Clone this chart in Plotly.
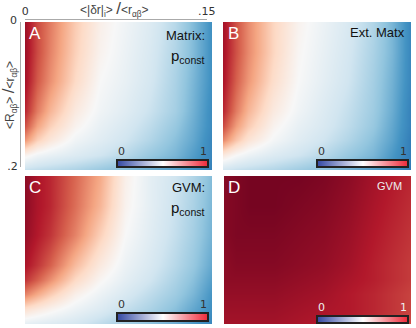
import plotly.graph_objects as go

W, H = 416, 328

x_vals = [0, 0.01, 0.02, 0.04, 0.06, 0.08, 0.10, 0.12, 0.135, 0.15]
y_vals = [0, 0.04, 0.08, 0.12, 0.14, 0.16, 0.18, 0.2]

z_matrix = [
    [0.93, 0.83, 0.76, 0.63, 0.53, 0.48, 0.43, 0.36, 0.28, 0.19],
    [0.93, 0.83, 0.75, 0.62, 0.52, 0.47, 0.42, 0.35, 0.28, 0.19],
    [0.92, 0.81, 0.73, 0.60, 0.50, 0.46, 0.41, 0.34, 0.27, 0.19],
    [0.88, 0.76, 0.67, 0.55, 0.48, 0.44, 0.39, 0.33, 0.26, 0.18],
    [0.82, 0.70, 0.62, 0.52, 0.46, 0.42, 0.37, 0.31, 0.25, 0.18],
    [0.72, 0.62, 0.56, 0.48, 0.44, 0.40, 0.35, 0.29, 0.24, 0.17],
    [0.52, 0.48, 0.46, 0.43, 0.40, 0.36, 0.31, 0.27, 0.22, 0.17],
    [0.38, 0.37, 0.36, 0.34, 0.31, 0.28, 0.25, 0.22, 0.19, 0.16],
]
z_ext = [
    [0.92, 0.82, 0.74, 0.61, 0.52, 0.47, 0.42, 0.35, 0.27, 0.17],
    [0.92, 0.82, 0.74, 0.61, 0.51, 0.46, 0.41, 0.34, 0.27, 0.17],
    [0.91, 0.80, 0.72, 0.59, 0.50, 0.45, 0.40, 0.33, 0.26, 0.17],
    [0.88, 0.76, 0.67, 0.55, 0.48, 0.43, 0.38, 0.32, 0.25, 0.16],
    [0.83, 0.71, 0.63, 0.52, 0.46, 0.42, 0.37, 0.31, 0.24, 0.16],
    [0.74, 0.64, 0.57, 0.49, 0.44, 0.40, 0.35, 0.29, 0.23, 0.15],
    [0.55, 0.50, 0.47, 0.43, 0.40, 0.36, 0.31, 0.27, 0.21, 0.15],
    [0.40, 0.38, 0.37, 0.35, 0.32, 0.29, 0.26, 0.22, 0.19, 0.14],
]
z_gvm_p = [
    [0.95, 0.91, 0.88, 0.79, 0.69, 0.53, 0.45, 0.40, 0.35, 0.28],
    [0.95, 0.91, 0.88, 0.78, 0.67, 0.52, 0.45, 0.39, 0.34, 0.27],
    [0.94, 0.90, 0.86, 0.75, 0.62, 0.50, 0.44, 0.38, 0.33, 0.26],
    [0.91, 0.86, 0.80, 0.66, 0.55, 0.47, 0.42, 0.36, 0.31, 0.24],
    [0.86, 0.80, 0.73, 0.60, 0.51, 0.45, 0.40, 0.34, 0.29, 0.22],
    [0.75, 0.69, 0.63, 0.53, 0.47, 0.42, 0.37, 0.32, 0.27, 0.20],
    [0.58, 0.55, 0.52, 0.47, 0.43, 0.38, 0.34, 0.29, 0.24, 0.19],
    [0.45, 0.44, 0.43, 0.41, 0.37, 0.33, 0.29, 0.25, 0.21, 0.17],
]
z_gvm = [
    [0.96, 0.97, 0.98, 0.98, 0.98, 0.97, 0.95, 0.92, 0.90, 0.88],
    [0.96, 0.97, 0.98, 0.98, 0.97, 0.96, 0.94, 0.91, 0.89, 0.87],
    [0.96, 0.97, 0.97, 0.97, 0.96, 0.95, 0.93, 0.90, 0.88, 0.86],
    [0.95, 0.96, 0.96, 0.96, 0.95, 0.94, 0.92, 0.89, 0.87, 0.85],
    [0.95, 0.95, 0.95, 0.95, 0.94, 0.93, 0.91, 0.89, 0.87, 0.85],
    [0.94, 0.94, 0.94, 0.94, 0.93, 0.92, 0.90, 0.88, 0.86, 0.84],
    [0.93, 0.93, 0.93, 0.93, 0.92, 0.91, 0.90, 0.88, 0.86, 0.84],
    [0.92, 0.92, 0.92, 0.92, 0.91, 0.90, 0.89, 0.87, 0.85, 0.83],
]

x_ticks = [0, 0.15]
x_tick_labels = ["0", ".15"]
y_ticks = [0.2]
y_tick_labels = [".2"]
y_top_label = "0"
cbar_vals = [0, 1]
cbar_labels = ["0", "1"]

rdbu_r = ["#053061", "#2166ac", "#4393c3", "#92c5de", "#d1e5f0", "#f7f7f7",
          "#fddbc7", "#f4a582", "#d6604d", "#b2182b", "#67001f"]
cs = [[i / 10, c] for i, c in enumerate(rdbu_r)]
cbar_cs = [[0, "#3a4ea6"], [0.5, "#ffffff"], [1, "#ee2b3b"]]

def px(x):
    return x / W

def py(y):
    return 1 - y / H

# panel pixel boxes: (x0, x1, ytop, ybottom)
panels = [
    (25, 212, 22, 170, z_matrix),
    (223, 411, 22, 170, z_ext),
    (25, 212, 176, 324, z_gvm_p),
    (224, 411, 176, 324, z_gvm),
]
cbars = [
    (118, 207, 161, 166, "#333333"),
    (318, 407, 161, 166, "#333333"),
    (118, 207, 314, 320, "#333333"),
    (318, 407, 317, 322, "#eeeeee"),
]

fig = go.Figure()
layout = dict(template="none", width=W, height=H, margin=dict(l=0, r=0, t=0, b=0, pad=0),
              paper_bgcolor="white", plot_bgcolor="rgba(0,0,0,0)", showlegend=False)

n = 1
for (x0, x1, yt, yb, z) in panels:
    xa = "xaxis" if n == 1 else f"xaxis{n}"
    ya = "yaxis" if n == 1 else f"yaxis{n}"
    fig.add_trace(go.Heatmap(x=x_vals, y=y_vals, z=z, colorscale=cs, zmin=0, zmax=1,
                             zsmooth="best", showscale=False, hoverinfo="skip",
                             xaxis="x" if n == 1 else f"x{n}",
                             yaxis="y" if n == 1 else f"y{n}"))
    layout[xa] = dict(domain=[px(x0), px(x1)], range=[0, 0.15], visible=False,
                      automargin=False, anchor="y" if n == 1 else f"y{n}")
    layout[ya] = dict(domain=[py(yb), py(yt)], range=[0.2, 0], visible=False,
                      automargin=False, anchor="x" if n == 1 else f"x{n}")
    n += 1

for (x0, x1, yt, yb, tc) in cbars:
    fig.add_trace(go.Heatmap(x=cbar_vals, y=[0], z=[cbar_vals], colorscale=cbar_cs,
                             zmin=0, zmax=1, zsmooth="best", showscale=False,
                             hoverinfo="skip", xaxis=f"x{n}", yaxis=f"y{n}"))
    layout[f"xaxis{n}"] = dict(domain=[px(x0), px(x1)], range=[0, 1], anchor=f"y{n}",
                               side="top", showline=True, mirror=True, linecolor="#222222",
                               linewidth=1.5, ticks="", showgrid=False, zeroline=False,
                               tickvals=[0.04, 0.96], ticktext=cbar_labels,
                               tickfont=dict(family="DejaVu Sans", size=11, color=tc),
                               fixedrange=True, automargin=False)
    layout[f"yaxis{n}"] = dict(domain=[py(yb), py(yt)], range=[-0.5, 0.5], anchor=f"x{n}",
                               showline=True, mirror=True, linecolor="#222222",
                               linewidth=1.5, showticklabels=False, ticks="",
                               showgrid=False, zeroline=False, fixedrange=True,
                               automargin=False)
    n += 1

# frame axes (top x, left y)
fig.add_trace(go.Scatter(x=[None], y=[None], xaxis=f"x{n}", yaxis=f"y{n}",
                         hoverinfo="skip", showlegend=False))
layout[f"xaxis{n}"] = dict(domain=[px(25), px(207)], range=[-0.0003, 0.1503], anchor="free",
                           position=py(19), side="top", showline=True, linecolor="#aaaaaa",
                           linewidth=1, ticks="", showgrid=False, zeroline=False,
                           tickvals=x_ticks, ticktext=x_tick_labels, automargin=False,
                           tickfont=dict(family="DejaVu Sans", size=11, color="#333333"))
layout[f"yaxis{n}"] = dict(domain=[py(167), py(22)], range=[0.2005, -0.0005], anchor="free",
                           position=px(20), side="left", showline=True, linecolor="#aaaaaa",
                           linewidth=1, ticks="", showgrid=False, zeroline=False,
                           tickvals=y_ticks, ticktext=y_tick_labels, automargin=False,
                           tickfont=dict(family="DejaVu Sans", size=11, color="#333333"))

fig.update_layout(**layout)

F = "Liberation Sans"
ann = []
def add(text, x, y, xa, ya, size, color, angle=0, family=F):
    ann.append(dict(text=text, x=px(x), y=py(y), xref="paper", yref="paper",
                    xanchor=xa, yanchor=ya, showarrow=False, textangle=angle,
                    font=dict(family=family, size=size, color=color)))

add("&lt;|δr|<sub>i</sub>&gt; <span style='font-size:17px'>/</span>&lt;r<sub>αβ</sub>&gt;",
    114, 9, "center", "middle", 12, "#444444")
add("&lt;R<sub>αβ</sub>&gt; <span style='font-size:17px'>/</span>&lt;r<sub>αβ</sub>&gt;",
    9, 95, "center", "middle", 12, "#444444", -90)
add(y_top_label, 19, 21, "right", "middle", 11, "#333333", family="DejaVu Sans")
add("A", 27, 22, "left", "top", 17, "white")
add("B", 226, 22, "left", "top", 17, "white")
add("C", 27, 176, "left", "top", 17, "white")
add("D", 226, 176, "left", "top", 17, "white")
add("Matrix:", 207, 36, "right", "middle", 13, "#111111")
add("p<sub>const</sub>", 207, 56, "right", "middle", 15, "#111111")
add("Ext. Matx", 407, 33, "right", "middle", 13, "#111111")
add("GVM:", 207, 188, "right", "middle", 13, "#111111")
add("p<sub>const</sub>", 207, 208, "right", "middle", 15, "#111111")
add("GVM", 404, 186, "right", "middle", 11, "#eeeeee")
fig.update_layout(annotations=ann)

fig.write_html("out.html", config={"displayModeBar": False},
               post_script="document.body.style.margin='0';document.body.style.overflow='hidden';")
